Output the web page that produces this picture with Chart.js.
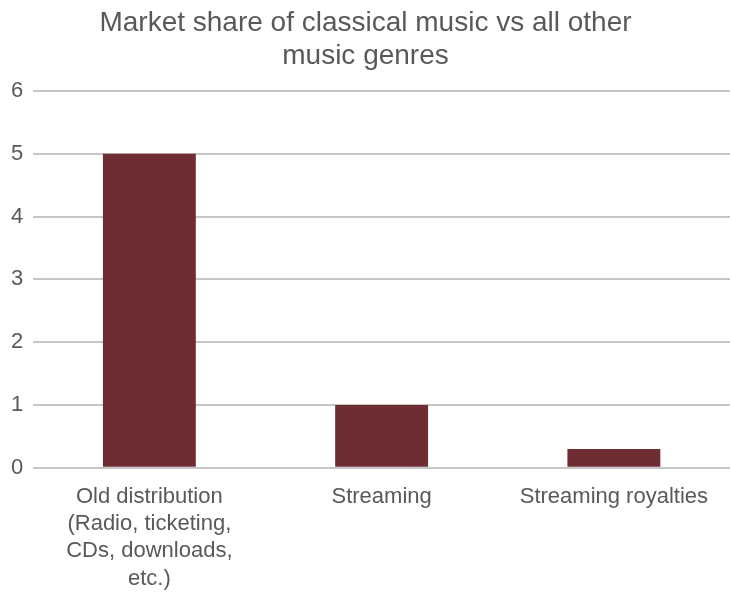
<!DOCTYPE html>
<html lang="en">
<head>
  <meta charset="UTF-8" />
  <title>Market share of classical music</title>
  <script src="https://cdn.jsdelivr.net/npm/chart.js@4.4.1/dist/chart.umd.min.js"></script>
  <style>
    html, body {margin: 0; padding: 0; background: #fff;}
    #wrap {width: 732px; height: 608px; position: relative;}
  </style>
</head>
<body>
  <div id="wrap"><canvas id="myChart"></canvas></div>

  <script>
    // chart data
    const categories = [
      ["Old distribution", "(Radio, ticketing,", "CDs, downloads,", "etc.)"],
      "Streaming",
      "Streaming royalties"
    ];
    const shareValues = [5, 1, 0.3];
    const yTicks = [0, 1, 2, 3, 4, 5, 6];
    const titleLines = ["Market share of classical music vs all other", "music genres"];

    const textColor = "#595959";
    const fontFamily = "'Liberation Sans', Arial, sans-serif";

    new Chart(document.getElementById("myChart").getContext("2d"), {
      type: "bar",
      data: {
        labels: categories,
        datasets: [{
          data: shareValues,
          backgroundColor: "#6e2c33",
          borderWidth: 0,
          barPercentage: 0.4,
          categoryPercentage: 1
        }]
      },
      options: {
        responsive: true,
        maintainAspectRatio: false,
        animation: false,
        layout: {padding: {left: 1, right: 2, top: 3, bottom: 8}},
        plugins: {
          legend: {display: false},
          tooltip: {enabled: false},
          title: {
            display: true,
            text: titleLines,
            color: textColor,
            font: {family: fontFamily, size: 28, weight: "normal", lineHeight: 1.18},
            padding: {top: 4, bottom: 18}
          }
        },
        scales: {
          x: {
            grid: {display: false},
            border: {display: false},
            ticks: {
              color: textColor,
              font: {family: fontFamily, size: 22, lineHeight: 1.23},
              maxRotation: 0,
              autoSkip: false,
              padding: 8
            }
          },
          y: {
            min: yTicks[0],
            max: yTicks[yTicks.length - 1],
            afterBuildTicks: (axis) => { axis.ticks = yTicks.map(v => ({value: v})); },
            grid: {color: "#c6c6c6", lineWidth: 2, drawTicks: false},
            border: {display: false},
            ticks: {
              color: textColor,
              font: {family: fontFamily, size: 22},
              padding: 10
            }
          }
        }
      }
    });
  </script>
</body>
</html>
